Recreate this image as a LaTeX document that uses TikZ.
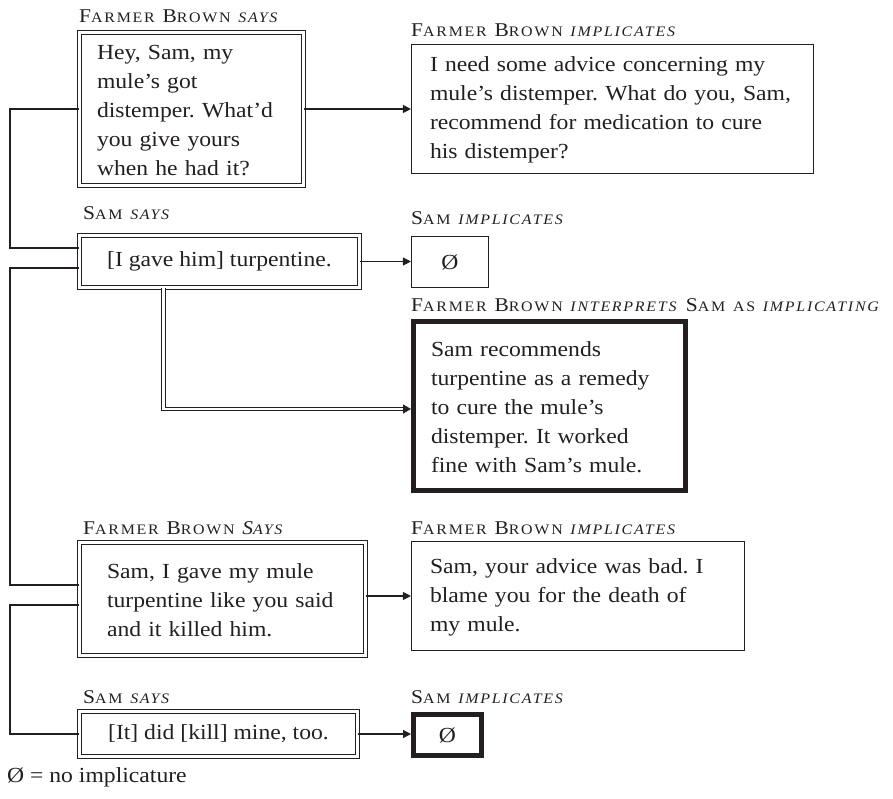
\documentclass[tikz,border=0pt]{standalone}
\usepackage{fontspec}
\usetikzlibrary{arrows.meta,calc}
\setmainfont{Liberation Serif}[FakeStretch=1.1]
\newfontfamily\lblfamily{Liberation Serif}[FakeStretch=1.1,LetterSpace=12]
\newcommand\bodyfont{\fontsize{21.5}{29}\selectfont}
\newcommand\lblfont{\lblfamily\fontsize{19.5}{20}\selectfont}
% fake small capitals: reduced capitals inside the label font
\newcommand\lc[1]{{\fontsize{14.5}{15}\selectfont #1}}
\definecolor{ink}{RGB}{35,31,32}
\frenchspacing
\tikzset{
  txtbox/.style={draw=ink, line width=1.1pt, text=ink, font=\bodyfont, inner ysep=0pt, align=left},
  dbox/.style={txtbox, double, double distance=3pt, line width=1.2pt},
  heavybox/.style={txtbox, line width=5pt},
  lbl/.style={anchor=base west, inner sep=0pt, text=ink, font=\lblfont},
  link/.style={draw=ink, line width=1.1pt},
  arr/.style={link, -{Triangle[length=8pt,width=8pt]}},
  dlink/.style={draw=ink, double, double distance=2.5pt, line width=1.1pt, -{Triangle[length=8pt,width=9pt]}},
}
\begin{document}
\begin{tikzpicture}[x=1pt,y=-1pt]
\useasboundingbox (0,0) rectangle (893,799);

% ---- first exchange
\node[lbl] (l1) at (79,23) {F\lc{ARMER} B\lc{ROWN} \textit{\lc{SAYS}}};
\node[dbox, minimum width=224pt, minimum height=153pt, text width=189pt, inner xsep=17.5pt] (b1) at (191.5,109)
  {\rule{0pt}{17pt}Hey, Sam, my\\ mule’s got\\ distemper. What’d\\ you give yours\\ when he had it?};

\node[lbl] (l2) at (411,37) {F\lc{ARMER} B\lc{ROWN} \textit{\lc{IMPLICATES}}};
\node[txtbox, minimum width=402pt, minimum height=129pt, text width=365pt, inner xsep=18.5pt] (b2) at (612.5,109)
  {\rule{0pt}{17pt}I need some advice concerning my\\ mule’s distemper. What do you, Sam,\\ recommend for medication to cure\\ his distemper?};

% ---- Sam's reply
\node[lbl] (l3) at (83,220) {S\lc{AM} \textit{\lc{SAYS}}};
\node[dbox, minimum width=280pt, minimum height=52pt, align=center, inner xsep=0pt] (b3) at (219.5,261.5)
  {[I gave him] turpentine.};

\node[lbl] (l4) at (411,225) {S\lc{AM} \textit{\lc{IMPLICATES}}};
\node[txtbox, minimum width=77pt, minimum height=51pt, align=center] (b4) at (450,262) {Ø};

\node[lbl] (l5) at (411,311) {F\lc{ARMER} B\lc{ROWN} \textit{\lc{INTERPRETS}} S\lc{AM} \lc{AS} \textit{\lc{IMPLICATING}}};
\node[heavybox, minimum width=272pt, minimum height=169pt, text width=237pt, inner xsep=17.5pt] (b5) at (549.5,406)
  {\rule{0pt}{17pt}Sam recommends\\ turpentine as a remedy\\ to cure the mule’s\\ distemper. It worked\\ fine with Sam’s mule.};

% ---- second exchange
\node[lbl] (l6) at (83,534) {F\lc{ARMER} B\lc{ROWN} \textit{S\lc{AYS}}};
\node[dbox, minimum width=286pt, minimum height=113pt, text width=231pt, inner xsep=27.5pt] (b6) at (222.5,599)
  {\rule{0pt}{17pt}Sam, I gave my mule\\ turpentine like you said\\ and it killed him.};

\node[lbl] (l7) at (411,534) {F\lc{ARMER} B\lc{ROWN} \textit{\lc{IMPLICATES}}};
\node[txtbox, minimum width=333pt, minimum height=109pt, text width=296pt, inner xsep=18.5pt] (b7) at (578,596)
  {\rule{0pt}{17pt}Sam, your advice was bad. I\\ blame you for the death of\\ my mule.};

\node[lbl] (l8) at (83,703) {S\lc{AM} \textit{\lc{SAYS}}};
\node[dbox, minimum width=278pt, minimum height=45pt, align=center, inner xsep=0pt] (b8) at (218.5,734)
  {[It] did [kill] mine, too.};

\node[lbl] (l9) at (411,703) {S\lc{AM} \textit{\lc{IMPLICATES}}};
\node[heavybox, minimum width=68pt, minimum height=41pt, align=center] (b9) at (447.5,735) {Ø};

\node[lbl, font=\bodyfont] (key) at (7,782) {Ø = no implicature};

% ---- connectors
\draw[arr] (b1.east) -- (b1.east -| b2.west);
\draw[arr] (b3.east) -- (b3.east -| b4.west);
\draw[arr] (b6.east |- b7.west) -- (b7.west);
\draw[arr] (b8.east) -- (b8.east -| b9.west);

\coordinate (drop) at ($(b3.south west)!0.3!(b3.south east)$);
\draw[dlink] (drop) |- ([yshift=-3pt]b5.west);

\draw[link] (b1.west) -| (10,248) -- ([yshift=13.5pt]b3.west);
\draw[link] ([yshift=-6.5pt]b3.west) -| (10,585) -- ([yshift=14pt]b6.west);
\draw[link] ([yshift=-6pt]b6.west) -| (10,734) -- (b8.west);
\end{tikzpicture}
\end{document}
